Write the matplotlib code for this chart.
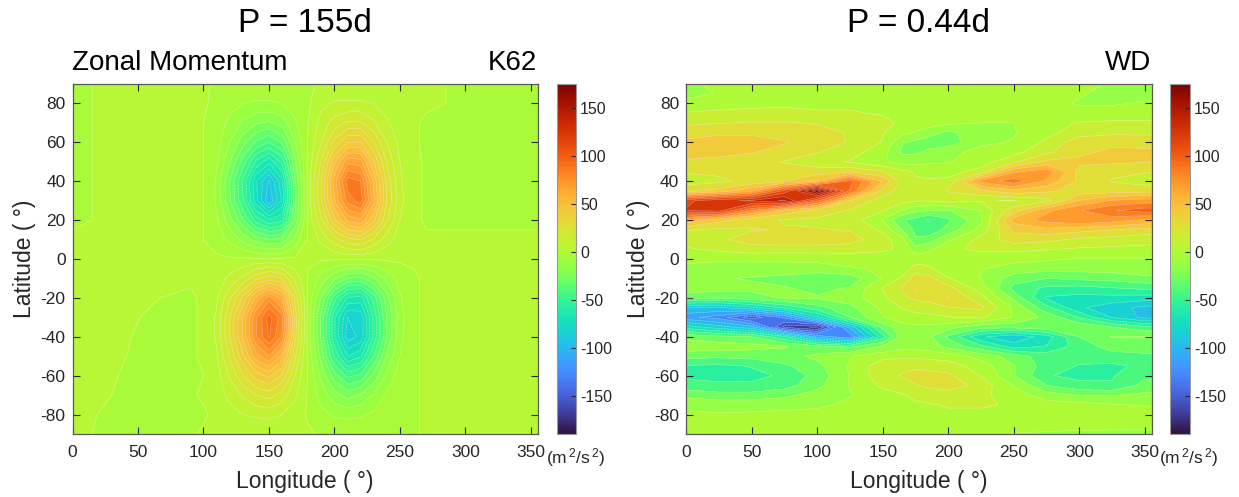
import numpy as np
import matplotlib
matplotlib.use("Agg")
import matplotlib.pyplot as plt
from matplotlib.cm import ScalarMappable
from matplotlib.colors import Normalize

plt.rcParams['font.family'] = ['Liberation Sans', 'DejaVu Sans']
plt.rcParams['axes.unicode_minus'] = False
plt.rcParams['mathtext.default'] = 'regular'

lat_k62 = [90, 80, 70, 60, 50, 40, 30, 20, 10, 0, -10, -20, -30, -40, -50, -60, -70, -80, -90]
lon_k62 = [0, 30, 60, 90, 100, 110, 120, 130, 140, 150, 160, 170, 180, 190, 200, 210, 220, 230, 240, 250, 260, 270, 300, 330, 355]
k62 = [
    [-1, 1, 1, 1, 1, -1, -1, -1, -1, -1, -1, -1, -1, 1, 1, 1, 1, 1, 1, 1, 1, 1, -1, -1, -1],
    [-1, 1, 1, 1, 1, -2, -4, -7, -8, -8, -7, -4, -1, 5, 8, 8, 8, 7, 4, 2, 1, 1, -1, -1, -1],
    [-1, 1, 1, 1, 0, -3, -9, -15, -20, -22, -18, -8, 0, 10, 17, 22, 22, 15, 8, 3, 1, -1, -1, -1, -1],
    [-1, 1, 1, 1, 0, -4, -14, -25, -36, -42, -34, -14, 1, 14, 30, 42, 42, 28, 14, 5, 1, -1, -1, -1, -1],
    [-1, 1, 1, 1, 0, -6, -20, -38, -57, -68, -54, -22, 2, 22, 48, 68, 66, 42, 20, 7, 2, -1, -1, -1, -1],
    [-1, 1, 1, 1, 0, -8, -28, -50, -76, -92, -72, -28, 3, 28, 60, 88, 84, 54, 26, 8, 2, -1, -1, -1, -1],
    [-1, 1, 1, 1, 0, -8, -27, -48, -74, -97, -76, -30, 3, 28, 56, 80, 88, 58, 28, 9, 2, -1, -1, -1, -1],
    [-1, 1, 1, 1, 0, -6, -18, -34, -52, -62, -58, -26, 2, 20, 40, 58, 62, 44, 22, 7, 2, -1, -1, -1, -1],
    [1, 1, 1, 1, 0, -3, -9, -16, -24, -28, -26, -12, 1, 9, 18, 26, 28, 20, 10, 4, 1, 1, 1, 1, 1],
    [1, 1, 1, 1, 1, 1, 1, 1, 1, 1, 1, 1, 1, 1, 1, 1, 1, 1, 1, 1, 1, 1, 1, 1, 1],
    [1, 1, 1, 1, 1, 3, 9, 16, 26, 32, 28, 12, -1, -10, -20, -28, -30, -22, -12, -4, -1, 1, 1, 1, 1],
    [1, 1, 0.3, -1, 1, 6, 20, 36, 58, 74, 60, 26, -2, -22, -46, -64, -66, -46, -24, -8, -1, 1, 1, 1, 1],
    [1, 1, -0.4, -1, 1, 8, 28, 50, 76, 94, 80, 32, -3, -30, -62, -84, -82, -54, -28, -10, -1, 1, 1, 1, 1],
    [1, 1, -1, -1, 1, 8, 28, 50, 76, 92, 76, 30, -3, -30, -62, -88, -82, -54, -28, -9, -1, 1, 1, 1, 1],
    [1, 0.6, -1, -1, 1, 6, 22, 40, 60, 70, 54, 22, -2, -24, -50, -70, -64, -42, -20, -7, -1, 1, 1, 1, 1],
    [1, 0.2, -1, -1, 0, 4, 15, 27, 38, 44, 34, 14, -1, -16, -32, -44, -40, -26, -12, -4, -1, 1, 1, 1, 1],
    [1, 0, -1, -1, 1, 3, 9, 15, 21, 24, 18, 8, -1, -10, -18, -24, -20, -13, -6, -2, -1, 1, 1, 1, 1],
    [1, -0.6, -1, -1, -1, 2, 4, 7, 8, 9, 7, 4, -1, -5, -8, -9, -8, -6, -3, -1, -1, 1, 1, 1, 1],
    [1, -1, -1, -1, 1, 1, 1, 1, 1, 1, 1, 1, 1, -1, -1, -1, -1, -1, -1, -1, -1, 1, 1, 1, 1],
]

lat_wd = [90, 85, 80, 75, 70, 65, 60, 55, 50, 45, 40, 35, 30, 25, 20, 15, 10, 5, 0,
          -5, -10, -15, -20, -25, -30, -35, -40, -45, -50, -55, -60, -65, -70, -75, -80, -85, -90]
lon_wd = [0, 25, 50, 75, 100, 125, 150, 165, 175, 185, 200, 225, 250, 275, 300, 325, 350, 355]
wd = [
    [-8, -6, 2, 3, 3, 3, 3, 3, 3, 3, 3, 3, 3, 3, -4, -8, -8, -8],
    [-12, -6, 2, 4, 4, 4, 4, 4, 4, 4, 3, 2, 1, -2, -6, -10, -10, -10],
    [-2, 1, 4, 5, 5, 5, 5, 5, 4, 4, 3, 1, 0, -4, -8, -8, -6, -6],
    [8, 10, 10, 10, 8, 8, 6, 5, 4, 3, 2, 0, -3, -5, -4, -3, -2, -2],
    [18, 20, 22, 22, 20, 18, 10, 5, 2, 0, -4, -7, -7, 2, 8, 10, 10, 10],
    [30, 33, 33, 30, 25, 20, 8, -2, -8, -15, -25, -10, -8, 3, 14, 18, 18, 18],
    [38, 40, 40, 36, 28, 20, 6, -20, -25, -28, -28, -10, -6, 10, 30, 32, 30, 30],
    [38, 38, 36, 30, 22, 14, -2, -24, -24, -18, -12, -2, 2, 18, 32, 38, 38, 38],
    [34, 32, 28, 20, 12, 6, -5, -12, -12, -10, -8, 0, 18, 38, 38, 38, 36, 36],
    [22, 24, 26, 26, 28, 32, 22, 10, 6, 4, 2, 12, 60, 72, 30, 24, 22, 22],
    [15, 18, 25, 35, 50, 95, 48, 14, 8, 8, 10, 68, 85, 60, 32, 20, 15, 15],
    [30, 40, 60, 110, 172, 90, 30, 14, 10, 12, 22, 32, 45, 38, 28, 28, 30, 30],
    [115, 130, 135, 150, 95, 35, 14, 12, 8, 8, 12, 8, 6, 16, 50, 65, 70, 70],
    [120, 125, 80, 45, 30, 20, 8, -8, -18, -20, -22, -6, 30, 60, 76, 90, 98, 98],
    [60, 40, 25, 20, 18, 15, -8, -34, -40, -50, -38, -10, 55, 68, 76, 70, 60, 60],
    [22, 18, 20, 22, 22, 20, 4, -22, -38, -46, -30, -2, 38, 45, 40, 35, 30, 30],
    [14, 18, 28, 30, 30, 26, 14, -2, -34, -28, -10, 12, 28, 25, 18, 15, 12, 12],
    [5, 10, 15, 14, 14, 14, 10, 4, -14, -10, 4, 10, 10, 8, 5, 4, 3, 3],
    [-6, -6, -5, -5, -4, -3, -2, -1, 0, 0, -1, -2, -2, -5, -8, -8, -8, -8],
    [-8, -10, -14, -12, -12, -8, -6, -3, 14, 10, -3, -6, -14, -16, -16, -15, -12, -12],
    [-14, -20, -22, -26, -34, -30, -6, 10, 28, 26, 8, -8, -28, -35, -32, -30, -25, -25],
    [-12, -14, -18, -20, -24, -20, 8, 22, 36, 30, 26, 0, -40, -52, -54, -50, -46, -46],
    [-32, -34, -26, -20, -20, -14, 4, 18, 24, 26, 36, 12, -25, -65, -68, -68, -70, -70],
    [-90, -92, -80, -60, -40, -25, -4, 8, 12, 14, 20, 24, -10, -45, -75, -85, -95, -95],
    [-115, -125, -155, -130, -80, -35, -8, 0, 2, 3, 6, 10, -8, -25, -50, -78, -95, -95],
    [-70, -85, -100, -165, -178, -100, -30, -12, -10, -10, -15, -30, -30, -25, -25, -35, -45, -45],
    [-25, -30, -35, -60, -110, -130, -55, -14, -14, -18, -38, -75, -88, -70, -35, -20, -20, -20],
    [-12, -14, -16, -20, -30, -38, -20, -12, -12, -14, -25, -45, -70, -62, -42, -30, -28, -28],
    [-30, -32, -30, -26, -18, -8, 2, 4, 4, 3, 0, -12, -28, -42, -44, -40, -38, -38],
    [-50, -52, -48, -38, -25, -5, 16, 18, 18, 16, 14, 0, -20, -42, -50, -52, -46, -46],
    [-52, -54, -54, -46, -30, -6, 16, 22, 26, 26, 24, 6, -20, -48, -52, -50, -38, -38],
    [-44, -46, -46, -42, -25, -6, 10, 16, 20, 24, 30, 15, -8, -35, -46, -48, -30, -30],
    [-25, -30, -30, -24, -16, -8, 0, 6, 10, 12, 12, 10, 0, -15, -22, -22, -18, -18],
    [-10, -12, -12, -12, -10, -4, 0, 3, 5, 6, 8, 8, 6, 0, -2, -6, -8, -8],
    [-5, -6, -5, -3, -2, 0, 2, 3, 4, 4, 5, 5, 6, 4, 1, 0, 0, 0],
    [0, 0, 1, 1, 2, 3, 4, 4, 4, 4, 4, 4, 3, 2, 1, 0, 0, 0],
    [0, -2, -4, -2, 2, 3, 4, 4, 4, 4, 3, 3, -8, -10, -12, -12, -12, -12],
]

titles = ["P = 155d", "P = 0.44d"]
models = ["K62", "WD"]
cbar_ticks = [-150, -100, -50, 0, 50, 100, 150]

W, H = 1239, 497
dark = '0.15'
norm = Normalize(-189, 175)

def rect(x0, y0, x1, y1):
    return [x0 / W, 1 - y1 / H, (x1 - x0) / W, (y1 - y0) / H]

fig = plt.figure(figsize=(W / 100, H / 100), dpi=100)

panels = [
    (lon_k62, lat_k62, k62, 7, 72.5, 537.5, 556.5, 576),
    (lon_wd, lat_wd, wd, 14, 686, 1151.5, 1170, 1190),
]
for i, (lon, lat, z, step, x0, x1, cx0, cx1) in enumerate(panels):
    levels = np.arange(-189, 176, step)
    ax = fig.add_axes(rect(x0, 84, x1, 434))
    ax.contourf(lon, lat, np.array(z), levels=levels, cmap='turbo', norm=norm)
    ax.contour(lon, lat, np.array(z), levels=levels, colors='white', linewidths=0.4, alpha=0.45)
    ax.set_xlim(0, 355)
    ax.set_ylim(-90, 90)
    ax.set_xticks(range(0, 351, 50))
    ax.set_yticks(range(-80, 81, 20))
    ax.tick_params(direction='in', top=True, right=True, length=5, width=0.8,
                   color=dark, labelcolor=dark, labelsize=12.5)
    ax.tick_params(axis='x', pad=8)
    ax.tick_params(axis='y', pad=5)
    for s in ax.spines.values():
        s.set_color('0.35')
        s.set_linewidth(0.9)
    ax.set_xlabel("Longitude ( °)", fontsize=16.5, color=dark, labelpad=7)
    ax.set_ylabel("Latitude ( °)", fontsize=16.5, color=dark, labelpad=3)
    if i == 0:
        ax.text(0, 1.04, "Zonal Momentum", transform=ax.transAxes, fontsize=20, ha='left', va='baseline')
    ax.text(1, 1.04, models[i], transform=ax.transAxes, fontsize=20, ha='right', va='baseline')
    fig.text((x0 + x1) / 2 / W, 1 - 32 / H, titles[i], fontsize=24, ha='center', va='baseline')

    cax = fig.add_axes(rect(cx0, 84, cx1, 434))
    cb = fig.colorbar(ScalarMappable(norm=norm, cmap='turbo'), cax=cax)
    cb.set_ticks(cbar_ticks)
    cb.ax.tick_params(direction='in', length=3.5, width=0.8, color=dark, labelcolor=dark, labelsize=11.5, pad=3)
    cb.outline.set_edgecolor('0.6')
    fig.text((cx0 + 19) / W, 1 - 458 / H, r"(m$^{\,2}$/s$^{\,2}$)", fontsize=12.5, color=dark, ha='center', va='center')

fig.savefig("out.png", dpi=100)
